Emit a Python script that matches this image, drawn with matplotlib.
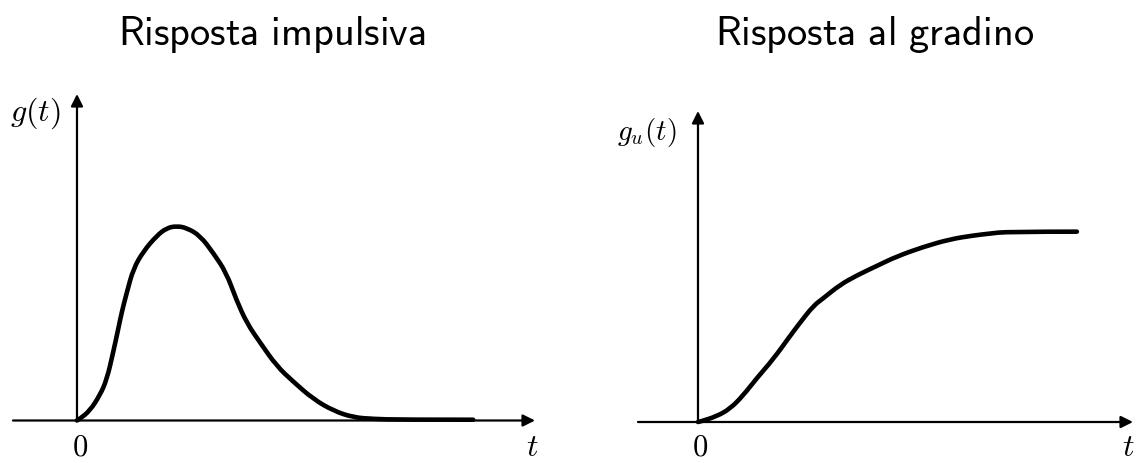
import matplotlib
matplotlib.use("Agg")
import matplotlib.pyplot as plt
from matplotlib.path import Path
from matplotlib.patches import PathPatch

plt.rcParams['mathtext.fontset'] = 'cm'

# impulse response g(t) (t axis 0..10, peak = 1)
t_imp = [0.00, 0.07, 0.28, 0.50, 0.65, 0.79, 0.90, 0.98, 1.09, 1.23, 1.45,
         1.74, 1.96, 2.18, 2.40, 2.69, 2.98, 3.26, 3.48, 3.71, 4.00, 4.36,
         4.72, 5.16, 5.60, 6.03, 6.47, 7.05, 8.65]
g_imp = [0.00, 0.01, 0.05, 0.13, 0.21, 0.35, 0.47, 0.56, 0.66, 0.78, 0.87,
         0.95, 0.99, 1.00, 0.99, 0.95, 0.86, 0.76, 0.62, 0.50, 0.40, 0.28,
         0.20, 0.11, 0.05, 0.016, 0.008, 0.004, 0.004]

# step response g_u(t) (final value = 1)
t_step = [0.00, 0.05, 0.43, 0.74, 1.04, 1.35, 1.73, 2.11, 2.34, 2.65, 2.88,
          3.26, 3.65, 4.11, 4.57, 5.18, 5.79, 6.33, 6.71, 7.10, 8.71]
g_step = [0.00, 0.002, 0.03, 0.07, 0.14, 0.23, 0.33, 0.45, 0.52, 0.61, 0.65,
          0.72, 0.77, 0.82, 0.87, 0.92, 0.96, 0.98, 0.99, 1.00, 1.00]

titles = [r'$\mathsf{Risposta\ impulsiva}$', r'$\mathsf{Risposta\ al\ gradino}$']
ylabels = [r'$g(t)$', r'$g_u(t)$']

W, H = 1137, 464
fig = plt.figure(figsize=(W / 100, H / 100), dpi=100)


def make_axes(px_left, px_right, px_bottom, px_top, xlim, ylim):
    ax = fig.add_axes([px_left / W, 1 - px_bottom / H,
                       (px_right - px_left) / W, (px_bottom - px_top) / H])
    ax.set_xlim(xlim)
    ax.set_ylim(ylim)
    ax.axis('off')
    return ax


def draw_frame(ax, xlim, ylim):
    arrow = dict(arrowstyle='-|>', lw=1.6, color='black',
                 mutation_scale=18, shrinkA=0, shrinkB=0)
    ax.annotate('', xy=(xlim[1], 0), xytext=(xlim[0], 0),
                arrowprops=arrow, annotation_clip=False)
    ax.annotate('', xy=(0, ylim[1]), xytext=(0, 0),
                arrowprops=arrow, annotation_clip=False)


def smooth_curve(ax, xs, ys):
    # quadratic bezier through midpoints, the read points act as control points
    pts = list(zip(xs, ys))
    verts = [pts[0]]
    codes = [Path.MOVETO]
    for i in range(1, len(pts) - 1):
        mid = ((pts[i][0] + pts[i + 1][0]) / 2, (pts[i][1] + pts[i + 1][1]) / 2)
        if i == len(pts) - 2:
            mid = pts[-1]
        verts += [pts[i], mid]
        codes += [Path.CURVE3, Path.CURVE3]
    patch = PathPatch(Path(verts, codes), facecolor='none', edgecolor='black',
                      lw=3.3, capstyle='round', clip_on=False)
    ax.add_patch(patch)


# left panel
xl1, yl1 = (-1.397, 10.0), (0.0, 1.679)
ax1 = make_axes(13, 535, 421.5, 95, xl1, yl1)
draw_frame(ax1, xl1, yl1)
smooth_curve(ax1, t_imp, g_imp)
ax1.text(-0.92, 1.586, ylabels[0], fontsize=23, ha='center', va='center')
ax1.text(0.07, -0.205, r'$0$', fontsize=22, ha='center', va='bottom')
ax1.text(9.93, -0.136, r'$t$', fontsize=23, ha='center', va='center')

# right panel
xl2, yl2 = (-1.379, 10.0), (0.0, 1.634)
ax2 = make_axes(638, 1133, 423, 112, xl2, yl2)
draw_frame(ax2, xl2, yl2)
smooth_curve(ax2, t_step, g_step)
ax2.text(-1.17, 1.524, ylabels[1], fontsize=21, ha='center', va='center')
ax2.text(0.05, -0.202, r'$0$', fontsize=22, ha='center', va='bottom')
ax2.text(9.89, -0.131, r'$t$', fontsize=23, ha='center', va='center')

fig.text(272 / W, 1 - 45 / H, titles[0], fontsize=29, ha='center', va='baseline')
fig.text(875 / W, 1 - 45 / H, titles[1], fontsize=29, ha='center', va='baseline')

fig.savefig('out.png', dpi=100, facecolor='white')
